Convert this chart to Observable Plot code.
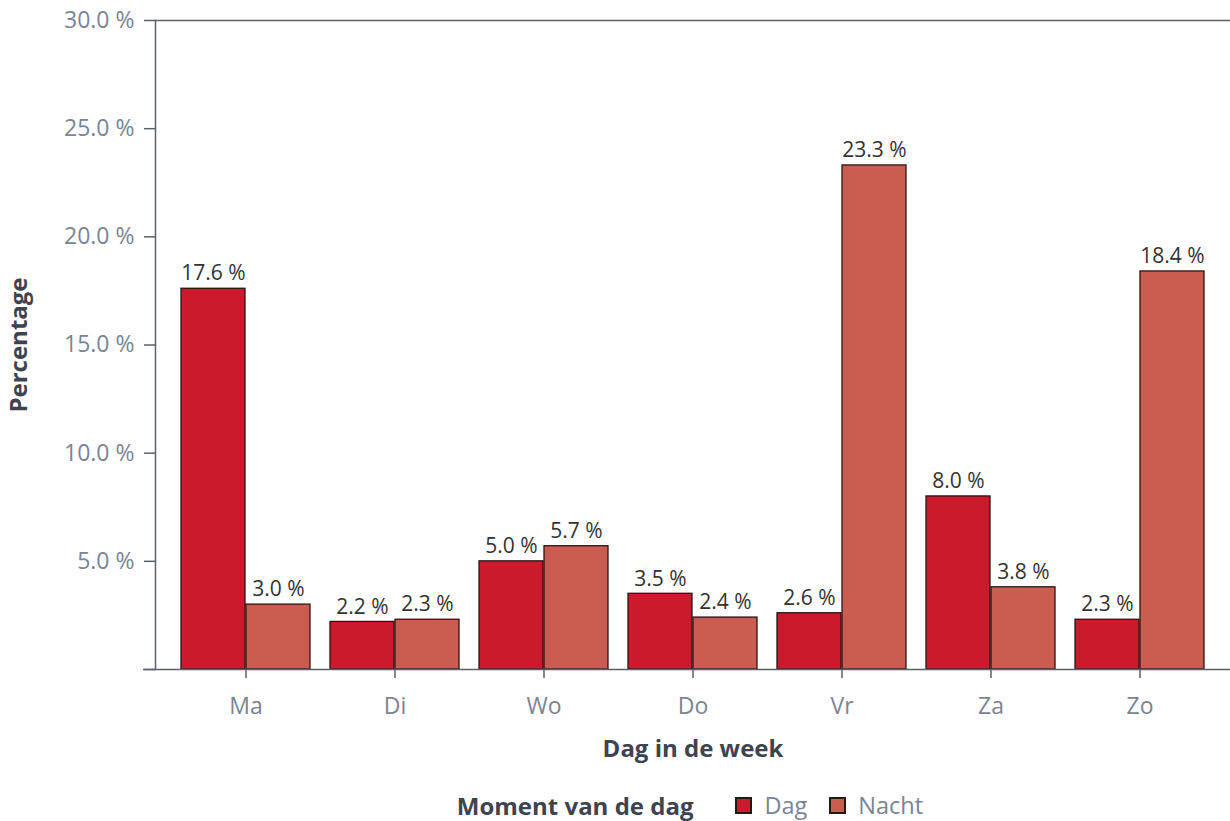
<!DOCTYPE html>
<html>
<head>
<meta charset="utf-8">
<script src="https://cdn.jsdelivr.net/npm/d3@7"></script>
<script src="https://cdn.jsdelivr.net/npm/@observablehq/plot@0.6"></script>
<style>
  html, body { margin: 0; background: #fff; font-family: "Open Sans", sans-serif; overflow: hidden; }
  #chart svg { display: block; }
  #legend { display: flex; align-items: center; justify-content: center; height: 32px; padding-top: 14px; padding-left: 150px; font-size: 23.5px; color: #7c8494; }
  #legend .title { font-weight: bold; color: #3d4450; margin-right: 42px; font-size: 24px; }
  #legend .sw { width: 13px; height: 13px; border: 2px solid #2a1414; display: inline-block; margin-right: 12px; }
  #legend .item { display: flex; align-items: center; }
  #legend .item + .item { margin-left: 22px; }
</style>
</head>
<body>
<div id="chart"></div>
<div id="legend"></div>
<script>
const days = ["Ma", "Di", "Wo", "Do", "Vr", "Za", "Zo"];
const moments = ["Dag", "Nacht"];
const dagValues = [17.6, 2.2, 5.0, 3.5, 2.6, 8.0, 2.3];
const nachtValues = [3.0, 2.3, 5.7, 2.4, 23.3, 3.8, 18.4];
const yTicks = [0, 5, 10, 15, 20, 25, 30];
const colors = ["#cb1a2c", "#cb5c50"];

const dag = days.map((d, i) => ({day: d, moment: "Dag", value: dagValues[i]}));
const nacht = days.map((d, i) => ({day: d, moment: "Nacht", value: nachtValues[i]}));
const fmt = v => v.toFixed(1) + " %";

const W = 1230, H = 775;
const half = 65;
const axisColor = "#5b606b";

const plot = Plot.plot({
  width: W,
  height: H,
  marginLeft: 155,
  marginRight: 0,
  marginTop: 20,
  marginBottom: 106,
  style: {fontFamily: "Open Sans, sans-serif", fontSize: "20px", background: "#fff"},
  x: {domain: days, range: [178, 1208], paddingInner: 0.1333, paddingOuter: 0, axis: null},
  y: {domain: [0, 30], axis: null},
  color: {domain: moments, range: colors},
  marks: [
    Plot.frame({anchor: "top", stroke: axisColor, strokeWidth: 1.5}),
    Plot.frame({anchor: "left", stroke: axisColor, strokeWidth: 1.5}),
    Plot.barY(dag, {x: "day", y: "value", fill: "moment", insetRight: half, stroke: "#2a1414", strokeWidth: 1.3}),
    Plot.barY(nacht, {x: "day", y: "value", fill: "moment", insetLeft: half, stroke: "#2a1414", strokeWidth: 1.3}),
    Plot.text(dag, {x: "day", y: "value", text: d => fmt(d.value), dx: -half / 2, dy: -15, fill: "#333", fontSize: 21}),
    Plot.text(nacht, {x: "day", y: "value", text: d => fmt(d.value), dx: half / 2, dy: -15, fill: "#333", fontSize: 21}),
    Plot.axisY({ticks: yTicks, tickFormat: v => v === 0 ? "" : fmt(v), tickSize: 11, tickPadding: 10, label: null, stroke: axisColor, color: "#7c8494", fontSize: 23, strokeWidth: 1.5}),
    Plot.axisX({tickSize: 9, tickPadding: 19, label: null, stroke: axisColor, color: "#7c8494", fontSize: 23, strokeWidth: 1.5}),
    Plot.ruleY([0], {stroke: axisColor, strokeWidth: 1.5, insetLeft: -12}),
    Plot.text(["Dag in de week"], {frameAnchor: "bottom", dy: 87, fontWeight: "bold", fill: "#3d4450", fontSize: 24}),
    Plot.text(["Percentage"], {frameAnchor: "left", textAnchor: "middle", dx: -136, rotate: -90, fontWeight: "bold", fill: "#3d4450", fontSize: 24})
  ]
});
document.getElementById("chart").appendChild(plot);

const leg = document.getElementById("legend");
const t = document.createElement("span");
t.className = "title";
t.textContent = "Moment van de dag";
leg.appendChild(t);
moments.forEach((m, i) => {
  const it = document.createElement("span");
  it.className = "item";
  const sw = document.createElement("span");
  sw.className = "sw";
  sw.style.background = colors[i];
  const lb = document.createElement("span");
  lb.textContent = m;
  it.appendChild(sw);
  it.appendChild(lb);
  leg.appendChild(it);
});
</script>
</body>
</html>
